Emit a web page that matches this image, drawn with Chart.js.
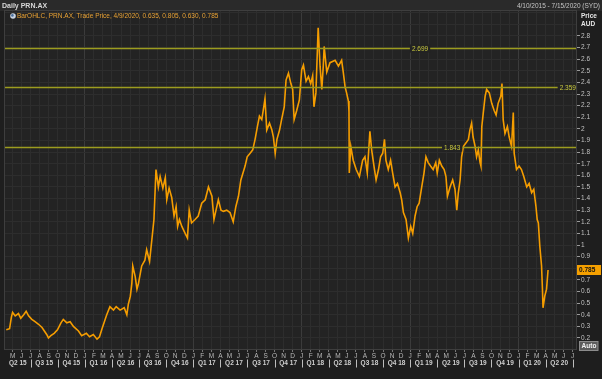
<!DOCTYPE html>
<html><head><meta charset="utf-8">
<script src="https://cdn.jsdelivr.net/npm/chart.js@4.4.1/dist/chart.umd.min.js"></script>
<style>html,body{margin:0;padding:0;background:#1d1d1d;overflow:hidden}#wrap{width:602px;height:379px;position:relative}</style>
</head><body><div id="wrap"><canvas id="c" width="602" height="379"></canvas></div>
<script>
// ---- data ----
const dates = [
'2015-04-10','2015-04-21','2015-04-27','2015-05-01','2015-05-10','2015-05-21','2015-05-29','2015-06-08','2015-06-16','2015-06-24',
'2015-07-05','2015-07-16','2015-07-27','2015-08-09','2015-08-25','2015-08-31','2015-09-08','2015-09-19','2015-09-30','2015-10-12',
'2015-10-20','2015-11-01','2015-11-12','2015-11-23','2015-12-10','2015-12-21','2016-01-06','2016-01-17','2016-01-30','2016-02-11',
'2016-02-19','2016-02-27','2016-03-14','2016-03-25','2016-04-06','2016-04-15','2016-04-28','2016-05-12','2016-05-21','2016-05-26',
'2016-06-02','2016-06-07','2016-06-10','2016-06-18','2016-06-24','2016-06-29','2016-07-10','2016-07-21','2016-07-27','2016-08-06',
'2016-08-14','2016-08-21','2016-08-28','2016-09-05','2016-09-11','2016-09-20','2016-09-28','2016-10-03','2016-10-11','2016-10-20',
'2016-10-28','2016-11-04','2016-11-09','2016-11-15','2016-11-23','2016-12-04','2016-12-12','2016-12-18','2016-12-26','2017-01-07',
'2017-01-18','2017-01-30','2017-02-10','2017-02-20','2017-03-03','2017-03-10','2017-03-17','2017-03-25','2017-04-03','2017-04-11',
'2017-04-22','2017-05-03','2017-05-14','2017-05-23','2017-06-01','2017-06-09','2017-06-16','2017-06-23','2017-06-30','2017-07-10',
'2017-07-19','2017-07-27','2017-08-04','2017-08-11','2017-08-19','2017-08-24','2017-08-30','2017-09-05','2017-09-14','2017-09-22',
'2017-09-27','2017-10-03','2017-10-09','2017-10-18','2017-10-25','2017-11-03','2017-11-09','2017-11-17','2017-11-25','2017-12-01',
'2017-12-06','2017-12-15','2017-12-24','2018-01-01','2018-01-07','2018-01-16','2018-01-24','2018-02-01','2018-02-07','2018-02-11',
'2018-02-17','2018-02-24','2018-03-02','2018-03-08','2018-03-13','2018-03-16','2018-03-25','2018-04-05','2018-04-22','2018-05-03',
'2018-05-14','2018-05-20','2018-05-26','2018-05-31','2018-06-06','2018-06-08','2018-06-09','2018-06-14','2018-06-22','2018-07-02',
'2018-07-13','2018-07-24','2018-08-01','2018-08-09','2018-08-18','2018-08-24','2018-09-01','2018-09-08','2018-09-16','2018-09-23',
'2018-09-30','2018-10-06','2018-10-11','2018-10-19','2018-10-27','2018-11-03','2018-11-11','2018-11-19','2018-11-28','2018-12-03',
'2018-12-09','2018-12-18','2018-12-26','2019-01-03','2019-01-10','2019-01-18','2019-01-25','2019-02-01','2019-02-09','2019-02-16',
'2019-02-22','2019-03-01','2019-03-09','2019-03-18','2019-03-27','2019-04-01','2019-04-08','2019-04-16','2019-04-24','2019-04-30',
'2019-05-05','2019-05-14','2019-05-23','2019-05-31','2019-06-06','2019-06-11','2019-06-17','2019-06-22','2019-06-28','2019-07-07',
'2019-07-15','2019-07-20','2019-07-26','2019-07-31','2019-08-07','2019-08-12','2019-08-18','2019-08-24','2019-08-27','2019-08-30',
'2019-09-04','2019-09-10','2019-09-15','2019-09-24','2019-10-02','2019-10-10','2019-10-17','2019-10-24','2019-11-02','2019-11-06',
'2019-11-10','2019-11-16','2019-11-24','2019-11-30','2019-12-08','2019-12-14','2019-12-17','2019-12-25','2020-01-03','2020-01-11',
'2020-01-19','2020-01-29','2020-02-06','2020-02-14','2020-02-21','2020-02-28','2020-03-03','2020-03-07','2020-03-12','2020-03-18',
'2020-03-21','2020-03-23','2020-03-29','2020-04-04','2020-04-09'
];
const prices = [
0.27,0.28,0.38,0.42,0.39,0.41,0.37,0.40,0.43,0.39,
0.36,0.34,0.32,0.29,0.23,0.20,0.22,0.24,0.27,0.33,
0.36,0.33,0.34,0.30,0.26,0.22,0.24,0.21,0.23,0.19,
0.21,0.28,0.40,0.47,0.44,0.47,0.44,0.46,0.40,0.49,
0.56,0.67,0.82,0.73,0.62,0.67,0.82,0.87,0.96,0.86,
1.05,1.22,1.65,1.50,1.59,1.49,1.58,1.39,1.49,1.41,
1.25,1.33,1.16,1.22,1.16,1.10,1.06,1.30,1.19,1.22,
1.25,1.36,1.39,1.50,1.42,1.22,1.30,1.39,1.30,1.29,
1.30,1.28,1.20,1.33,1.42,1.56,1.62,1.68,1.76,1.79,
1.82,1.91,2.02,2.11,2.08,2.16,2.26,1.99,2.05,1.99,
1.93,1.79,1.91,1.99,2.08,2.19,2.42,2.48,2.39,2.34,
2.08,2.16,2.25,2.51,2.55,2.41,2.45,2.39,2.46,2.19,
2.31,2.87,2.54,2.34,2.54,2.71,2.49,2.57,2.59,2.54,
2.59,2.48,2.36,2.31,2.24,2.15,1.62,1.85,1.73,1.65,
1.59,1.73,1.76,1.62,1.98,1.82,1.68,1.56,1.65,1.76,
1.79,1.91,1.73,1.65,1.73,1.62,1.50,1.53,1.45,1.39,
1.28,1.22,1.06,1.16,1.10,1.25,1.33,1.36,1.50,1.62,
1.76,1.71,1.68,1.65,1.71,1.62,1.73,1.68,1.65,1.59,
1.42,1.50,1.56,1.48,1.30,1.45,1.56,1.76,1.85,1.88,
1.91,1.99,2.05,1.93,1.85,1.76,1.82,1.71,1.68,2.02,
2.14,2.28,2.34,2.31,2.22,2.16,2.12,2.22,2.28,2.39,
2.08,1.96,2.02,1.93,1.85,2.14,1.79,1.65,1.68,1.65,
1.59,1.50,1.53,1.45,1.48,1.33,1.22,1.19,0.99,0.82,
0.62,0.46,0.56,0.62,0.785
];
const refLevels = [2.699, 2.359, 1.843];
const refLabels = ['2.699', '2.359', '1.843'];
const lastOHLC = [0.635, 0.805, 0.630, 0.785];
const lastDate = '4/9/2020';
const yTickValues = [0.2,0.3,0.4,0.5,0.6,0.7,0.8,0.9,1.0,1.1,1.2,1.3,1.4,1.5,1.6,1.7,1.8,1.9,2.0,2.1,2.2,2.3,2.4,2.5,2.6,2.7,2.8,2.9,3.0];
const monthLetters = ['J','F','M','A','M','J','J','A','S','O','N','D'];
const quarterLabels = ['Q2 15','Q3 15','Q4 15','Q1 16','Q2 16','Q3 16','Q4 16','Q1 17','Q2 17','Q3 17','Q4 17',
  'Q1 18','Q2 18','Q3 18','Q4 18','Q1 19','Q2 19','Q3 19','Q4 19','Q1 20','Q2 20'];
const titleText = 'Daily PRN.AX';
const rangeText = '4/10/2015 - 7/15/2020 (SYD)';
const seriesName = 'BarOHLC, PRN.AX, Trade Price';

// ---- helpers ----
function monthIndex(s){
  const [y,m,d] = s.split('-').map(Number);
  const dim = new Date(y, m, 0).getDate();
  return (y-2015)*12 + (m-1) + (d-1)/dim;
}
const points = dates.map((d,i)=>({x: monthIndex(d), y: prices[i]}));
const fmt = v => String(parseFloat(v.toFixed(3)));
const FONT = '"Liberation Sans", Arial, sans-serif';

const decor = {
  id: 'decor',
  beforeDraw(chart){
    const {ctx, chartArea:a, width, height} = chart;
    ctx.save();
    ctx.fillStyle = '#1e1e1e'; ctx.fillRect(0,0,width,height);
    ctx.fillStyle = '#2a2a2a'; ctx.fillRect(0,0,width,11);
    ctx.fillStyle = '#232323'; ctx.fillRect(a.left,a.top,a.right-a.left,a.bottom-a.top);
    ctx.restore();
  },
  afterDatasetsDraw(chart){
    const {ctx, chartArea:a, scales:{x:xs, y:ys}} = chart;
    const labelAt = [49.1, 65.45, 52.65];
    ctx.save();
    ctx.font = '6.5px ' + FONT;
    refLevels.forEach((lv,i)=>{
      const y = Math.round(ys.getPixelForValue(lv)) + 0.5;
      ctx.strokeStyle = '#9c9c1f'; ctx.lineWidth = 1.3;
      ctx.beginPath(); ctx.moveTo(a.left,y); ctx.lineTo(a.right,y); ctx.stroke();
      const lx = xs.getPixelForValue(labelAt[i]);
      const w = ctx.measureText(refLabels[i]).width;
      ctx.fillStyle = '#232323'; ctx.fillRect(lx-w/2-2, y-4, w+4, 8);
      ctx.fillStyle = '#c9c93e'; ctx.textAlign = 'center'; ctx.textBaseline = 'middle';
      ctx.fillText(refLabels[i], lx, y+0.5);
    });
    ctx.restore();
  },
  afterDraw(chart){
    const {ctx, chartArea:a, scales:{x:xs, y:ys}, width} = chart;
    ctx.save();
    // frame
    ctx.strokeStyle = '#3e3e3e'; ctx.lineWidth = 1;
    ctx.strokeRect(a.left-0.5, a.top-0.5, a.right-a.left+1, a.bottom-a.top+1);
    // header
    ctx.textBaseline = 'middle';
    ctx.font = 'bold 7px ' + FONT; ctx.fillStyle = '#d6d6d6'; ctx.textAlign = 'left';
    ctx.fillText(titleText, 2, 6);
    ctx.font = '6.5px ' + FONT; ctx.fillStyle = '#c4c4c4'; ctx.textAlign = 'right';
    ctx.fillText(rangeText, 600, 6);
    // legend row
    ctx.fillStyle = '#c9d3e0'; ctx.beginPath(); ctx.arc(13, 16, 2.8, 0, Math.PI*2); ctx.fill();
    ctx.fillStyle = '#4b6f9c'; ctx.beginPath(); ctx.arc(12.4, 15.4, 1.3, 0, Math.PI*2); ctx.fill();
    ctx.font = '6.5px ' + FONT; ctx.fillStyle = '#e9a234'; ctx.textAlign = 'left';
    ctx.fillText(seriesName + ', ' + lastDate + ', ' + lastOHLC.map(v=>v.toFixed(3)).join(', '), 17, 16.5);
    // axis header
    ctx.font = 'bold 6.5px ' + FONT; ctx.fillStyle = '#e6e6e6';
    ctx.fillText('Price', 581, 16);
    ctx.fillText('AUD', 581, 24.5);
    // last price box
    const py = ys.getPixelForValue(lastOHLC[3]);
    ctx.fillStyle = '#f5a000'; ctx.fillRect(a.right+1, Math.round(py)-5, 24, 10);
    ctx.fillStyle = '#111'; ctx.font = 'bold 6.5px ' + FONT;
    ctx.fillText(fmt(lastOHLC[3]), a.right+3, py+0.5);
    // Auto box
    ctx.fillStyle = '#5c5c5c'; ctx.fillRect(580, 341.5, 18, 9);
    ctx.strokeStyle = '#8c8c8c'; ctx.strokeRect(579.5, 341.5, 18.5, 9);
    ctx.fillStyle = '#f2f2f2'; ctx.textAlign = 'center'; ctx.font = 'bold 6.5px ' + FONT;
    ctx.fillText('Auto', 589, 346.5);
    // quarter row
    ctx.font = 'bold 6.5px ' + FONT; ctx.fillStyle = '#cfcfcf';
    quarterLabels.forEach(q=>{
      const qn = +q[1], yr = 2000 + +q.slice(3);
      const t0 = (yr-2015)*12 + (qn-1)*3, t1 = t0 + 3;
      const x0 = Math.max(xs.getPixelForValue(t0), a.left);
      const x1 = Math.min(xs.getPixelForValue(t1), a.right);
      ctx.fillStyle = '#cfcfcf';
      ctx.fillText(q, (x0+x1)/2, 363.5);
      const xb = xs.getPixelForValue(t1);
      if (xb <= a.right) {
        ctx.fillStyle = '#bdbdbd';
        ctx.fillRect(Math.round(xb), 359.5, 1, 8);
      }
    });
    ctx.restore();
  }
};

new Chart(document.getElementById('c'), {
  type: 'line',
  data: { datasets: [{
    data: points, parsing: false,
    borderColor: '#f59d00', borderWidth: 1.6, pointRadius: 0, tension: 0, fill: false,
    borderJoinStyle: 'miter'
  }]},
  options: {
    responsive: false, animation: false, events: [],
    layout: { padding: { left: 5, top: 11, right: 0, bottom: 0 } },
    plugins: { legend: { display: false }, tooltip: { enabled: false } },
    scales: {
      x: {
        type: 'linear', position: 'bottom', min: 3.16, max: 66.36,
        afterFit: s => { s.height = 30; },
        afterBuildTicks: s => { const t=[]; for (let m=4; m<=66; m++) t.push({value:m}); s.ticks = t; },
        grid: {
          color: c => (c.tick && c.tick.value % 12 === 0) ? '#3b3b3b' : '#2d2d2d',
          lineWidth: 1, tickLength: 3, tickColor: '#777'
        },
        border: { display: false },
        ticks: {
          autoSkip: false, maxRotation: 0, padding: 0, color: '#b8b8b8',
          font: { family: FONT, size: 6.5 },
          callback: v => monthLetters[((Math.round(v) % 12) + 12) % 12]
        }
      },
      y: {
        type: 'linear', position: 'right', min: 0.105, max: 3.015,
        afterFit: s => { s.width = 26; },
        afterBuildTicks: s => { s.ticks = yTickValues.map(v=>({value:v})); },
        grid: {
          color: '#2d2d2d', lineWidth: 1, tickLength: 4,
          tickColor: c => (c.tick && c.tick.value > 2.85) ? 'rgba(0,0,0,0)' : '#9a9a9a'
        },
        border: { display: false },
        ticks: {
          autoSkip: false, padding: 1, color: '#c2c2c2',
          font: { family: FONT, size: 6.5 },
          callback: v => v > 2.85 ? '' : fmt(v)
        }
      }
    }
  },
  plugins: [decor]
});
</script>
</body></html>
